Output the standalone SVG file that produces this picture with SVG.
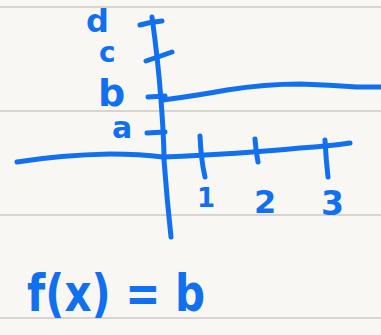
<svg xmlns="http://www.w3.org/2000/svg" width="381" height="335" viewBox="0 0 381 335">
<style>
.rule{stroke:#d8d4ce;stroke-width:2;fill:none}
.ink{stroke:#1170f0;stroke-width:5;fill:none;stroke-linecap:round;stroke-linejoin:round}
.lbl{fill:#1170f0;font-family:"DejaVu Sans","Liberation Sans",sans-serif;font-weight:bold}
</style>
<rect width="381" height="335" fill="#f9f7f3"/>
<g id="paper">
<line class="rule" x1="0" y1="7" x2="381" y2="7"/>
<line class="rule" x1="0" y1="111" x2="381" y2="111"/>
<line class="rule" x1="0" y1="215" x2="381" y2="215"/>
<line class="rule" x1="0" y1="318" x2="381" y2="318"/>
</g>
<g id="y-axis">
<path class="ink" d="M152,17 Q158,60 161,100 Q164,140 164,160 Q167,200 171,237"/>
<path class="ink" d="M140,25 Q150,22 162,21"/>
<path class="ink" d="M146,61 Q158,57 172,52"/>
<path class="ink" d="M148,97 L165,96"/>
<path class="ink" d="M147,133 L165,132"/>
</g>
<g id="x-axis">
<path class="ink" d="M17,162 Q60,155 110,154 Q140,154 163,157 Q240,154 300,148 Q330,146 350,143"/>
<path class="ink" d="M200,136 Q201,160 205,177"/>
<path class="ink" d="M255,139 Q256,152 258,162"/>
<path class="ink" d="M325,140 Q326,160 328,177"/>
</g>
<g id="line-b">
<path class="ink" d="M163,100 Q200,95 227,90 Q265,84 300,84 Q330,85 357,87 L381,87"/>
</g>
<g id="labels">
<text class="lbl" x="86" y="32" font-size="32">d</text>
<text class="lbl" x="99" y="62" font-size="28">c</text>
<text class="lbl" x="98" y="106" font-size="38">b</text>
<text class="lbl" x="112" y="138" font-size="30">a</text>
<text class="lbl" x="197" y="207" font-size="26">1</text>
<text class="lbl" x="254" y="213" font-size="32">2</text>
<text class="lbl" x="321" y="215" font-size="33">3</text>
<text class="lbl" x="27" y="311" font-size="52" textLength="178" lengthAdjust="spacingAndGlyphs">f(x) = b</text>
</g>
</svg>
